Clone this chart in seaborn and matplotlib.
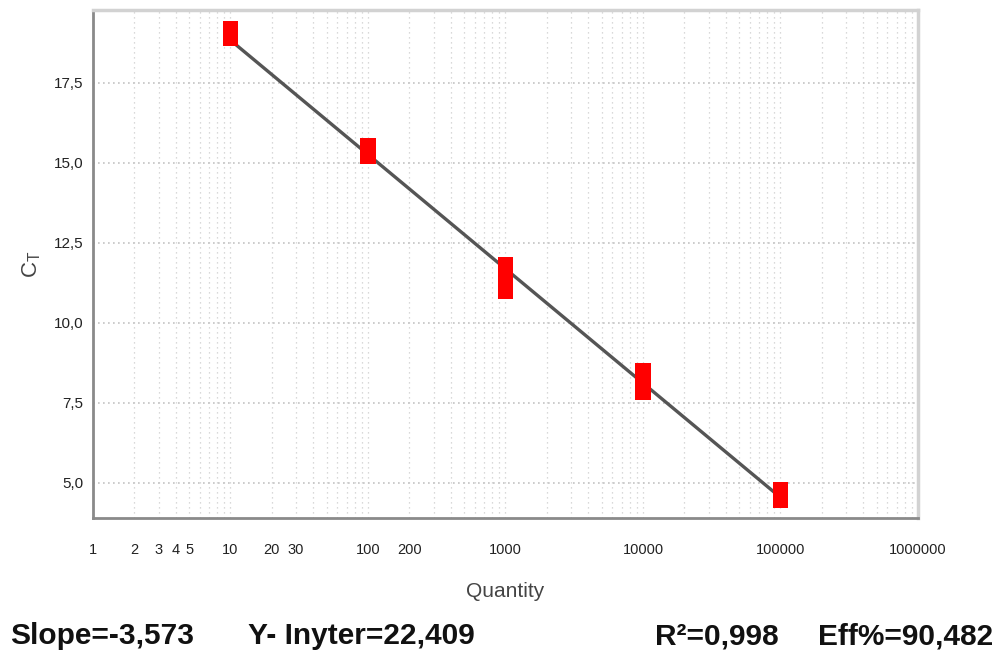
import numpy as np
import pandas as pd
import matplotlib
matplotlib.use("Agg")
import matplotlib.pyplot as plt
from matplotlib.path import Path
from matplotlib.ticker import FixedLocator, FixedFormatter, LogLocator, NullFormatter
import seaborn as sns

# Standard-curve replicates (quantity vs. threshold cycle)
quantity = [10, 100, 1000, 1000, 10000, 10000, 100000]
ct_values = [19.04, 15.37, 11.65, 11.16, 8.36, 7.99, 4.61]

# Regression results
slope = -3.573
intercept = 22.409
r_squared = 0.998
efficiency = 90.482

x_tick_values = [1, 2, 3, 4, 5, 10, 20, 30, 100, 200, 1000, 10000, 100000, 1000000]
x_tick_labels = ["1", "2", "3", "4", "5", "10", "20", "30", "100", "200",
                 "1000", "10000", "100000", "1000000"]
y_tick_values = [5.0, 7.5, 10.0, 12.5, 15.0, 17.5]
y_tick_labels = ["5,0", "7,5", "10,0", "12,5", "15,0", "17,5"]

sns.set_theme(style="white")
plt.rcParams["font.family"] = ["Liberation Sans Narrow", "Liberation Sans", "DejaVu Sans"]

fig = plt.figure(figsize=(10.04, 6.52), dpi=100)
ax = fig.add_axes([0.0926, 0.2055, 0.8217, 0.7792])
ax.set_xscale("log")

points = pd.DataFrame({"Quantity": quantity, "Ct": ct_values})

# Fitted line across the measured range
fit_x = np.array([min(quantity), max(quantity)], dtype=float)
fit = pd.DataFrame({"Quantity": fit_x, "Ct": slope * np.log10(fit_x) + intercept})
sns.lineplot(data=fit, x="Quantity", y="Ct", ax=ax, color="#555555",
             linewidth=2.4, zorder=3)

# Tall rectangular marker
rect = Path([(-0.3, -0.5), (0.3, -0.5), (0.3, 0.5), (-0.3, 0.5), (-0.3, -0.5)],
            [Path.MOVETO, Path.LINETO, Path.LINETO, Path.LINETO, Path.CLOSEPOLY])
sns.scatterplot(data=points, x="Quantity", y="Ct", ax=ax, marker=rect,
                s=340, color="#ff0000", edgecolor="none", linewidth=0, zorder=4)

ax.set_xlim(1, 1e6)
ax.set_ylim(3.90, 19.78)

ax.xaxis.set_major_locator(FixedLocator(x_tick_values))
ax.xaxis.set_major_formatter(FixedFormatter(x_tick_labels))
ax.xaxis.set_minor_locator(LogLocator(base=10, subs=np.arange(1, 10), numticks=20))
ax.xaxis.set_minor_formatter(NullFormatter())
ax.yaxis.set_major_locator(FixedLocator(y_tick_values))
ax.yaxis.set_major_formatter(FixedFormatter(y_tick_labels))

# Grid: dotted verticals at every log subdivision, dotted horizontals at labelled values
grid_v = dict(color="#cdcdcd", linestyle=(0, (1, 3)), linewidth=0.9)
ax.grid(which="minor", axis="x", **grid_v)
ax.grid(which="major", axis="x", **grid_v)
ax.grid(which="major", axis="y", color="#c4c4c4", linestyle=(0, (1, 2)), linewidth=1.2)

ax.tick_params(axis="both", which="major", direction="out", length=4, width=1.2,
               color="#777777", labelcolor="#222222", labelsize=10.5, pad=14)
ax.tick_params(axis="y", which="major", pad=3, labelsize=11)
ax.tick_params(axis="x", which="minor", length=0)

for side in ("left", "bottom"):
    ax.spines[side].set_color("#8a8a8a")
    ax.spines[side].set_linewidth(2.0)
for side in ("top", "right"):
    ax.spines[side].set_color("#d2d2d2")
    ax.spines[side].set_linewidth(2.5)

ax.set_xlabel("Quantity", fontsize=15, color="#444444", labelpad=18)
ax.set_ylabel(r"C$_\mathregular{T}$", fontsize=16, color="#444444", labelpad=8)

# Regression summary line under the chart
summary_style = dict(fontsize=21.5, fontweight="bold", color="#111111", va="baseline")
fig.text(10 / 1004, 0.012, f"Slope={slope:.3f}".replace(".", ","), **summary_style)
fig.text(248 / 1004, 0.012, f"Y- Inyter={intercept:.3f}".replace(".", ","), **summary_style)
fig.text(655 / 1004, 0.012, f"R²={r_squared:.3f}".replace(".", ","), **summary_style)
fig.text(818 / 1004, 0.012, f"Eff%={efficiency:.3f}".replace(".", ","), **summary_style)

fig.savefig("out.png", dpi=100)
